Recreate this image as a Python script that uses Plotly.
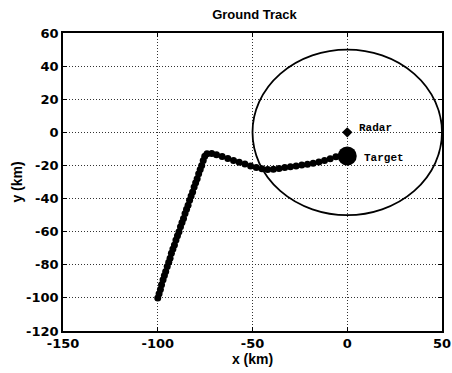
import plotly.graph_objects as go

# Ground track of the target (km), in order from start to end
track_x = [-100, -99.3, -98.6, -98.0, -97.2, -96.5, -95.8, -95.0, -94.2, -93.5,
           -92.8, -92.0, -91.2, -90.4, -89.6, -88.8, -88.0, -87.2, -86.4, -85.6,
           -84.8, -84.0, -83.2, -82.4, -81.6, -80.8, -80.0, -79.2, -78.4, -77.6,
           -76.8, -76.0, -75.2, -74.0,
           -71.5, -69.0, -66.0, -63.0, -60.0, -57.0, -54.0, -51.0, -48.0, -45.0, -42.0,
           -39.0, -36.0, -33.0, -30.0, -27.0, -24.0, -21.0, -18.0, -15.0, -12.0,
           -9.0, -6.0, -3.0, -1.0]
track_y = [-100, -97.5, -95.0, -92.0, -89.0, -86.5, -84.0, -81.0, -78.5, -76.0,
           -73.0, -70.5, -68.0, -65.0, -62.5, -60.0, -57.0, -54.5, -52.0, -49.0,
           -46.5, -44.0, -41.0, -38.5, -36.0, -33.0, -30.5, -28.0, -25.0, -22.5,
           -20.0, -17.0, -14.5, -13.0,
           -12.8, -13.5, -14.6, -15.8, -17.0, -18.0, -19.2, -20.3, -21.2, -22.0, -22.5,
           -22.3, -21.8, -21.3, -20.8, -20.3, -19.8, -19.3, -18.6, -17.9, -17.0,
           -16.0, -14.8, -13.8, -14.0]

radar_pos = (0, 0)
target_pos = (0, -14.3)
radar_range_km = 50

x_ticks = [-150, -100, -50, 0, 50]
y_ticks = [-120, -100, -80, -60, -40, -20, 0, 20, 40, 60]

tick_font = dict(family="DejaVu Sans, sans-serif", color="black", size=13, weight="bold")
label_font = dict(family="Liberation Sans, Arial, sans-serif", color="black", size=14, weight="bold")
mono_font = dict(family="Liberation Mono, Courier New, monospace", color="black", size=11, weight="bold")

fig = go.Figure()

# radar coverage ring
fig.add_shape(type="circle", xref="x", yref="y",
              x0=radar_pos[0] - radar_range_km, x1=radar_pos[0] + radar_range_km,
              y0=radar_pos[1] - radar_range_km, y1=radar_pos[1] + radar_range_km,
              line=dict(color="black", width=1.8), layer="above")

fig.add_trace(go.Scatter(x=track_x, y=track_y, mode="markers+lines",
                         line=dict(color="black", width=2),
                         marker=dict(color="black", size=7), hoverinfo="skip"))

fig.add_trace(go.Scatter(x=[radar_pos[0]], y=[radar_pos[1]], mode="markers",
                         marker=dict(symbol="diamond", color="black", size=8),
                         hoverinfo="skip"))

fig.add_trace(go.Scatter(x=[target_pos[0]], y=[target_pos[1]], mode="markers",
                         marker=dict(color="black", size=19), hoverinfo="skip"))

fig.add_annotation(x=radar_pos[0] + 5, y=radar_pos[1] + 2.5, text="Radar", showarrow=False,
                   xanchor="left", yanchor="middle", font=mono_font)
fig.add_annotation(x=target_pos[0] + 8, y=target_pos[1] - 1, text="Target", showarrow=False,
                   xanchor="left", yanchor="middle", font=mono_font)

axis_common = dict(showline=True, linecolor="black", linewidth=1.6, mirror="ticks",
                   ticks="inside", ticklen=4, tickcolor="black", tickwidth=1.2,
                   showgrid=True, gridcolor="#333333", griddash="1px,2px", gridwidth=1,
                   zeroline=False, tickfont=tick_font, automargin=False,
                   ticklabeloverflow="allow")

fig.update_xaxes(range=[-150, 50], tickvals=x_ticks, ticktext=[str(v) for v in x_ticks],
                 title=dict(text="x (km)", font=label_font, standoff=0), **axis_common)
fig.update_yaxes(range=[-120, 60], tickvals=y_ticks, ticktext=[str(v) for v in y_ticks],
                 title=dict(text="y (km)", font=label_font, standoff=0), **axis_common)

fig.update_layout(
    width=452, height=373,
    margin=dict(l=63, r=10, t=33, b=42),
    paper_bgcolor="white", plot_bgcolor="white",
    showlegend=False,
    title=dict(text="Ground Track", x=0.563, xanchor="center", y=0.96, yanchor="middle",
               font=dict(family="Liberation Sans, Arial, sans-serif", color="black", size=13, weight="bold")),
)

fig.write_html("out.html")
